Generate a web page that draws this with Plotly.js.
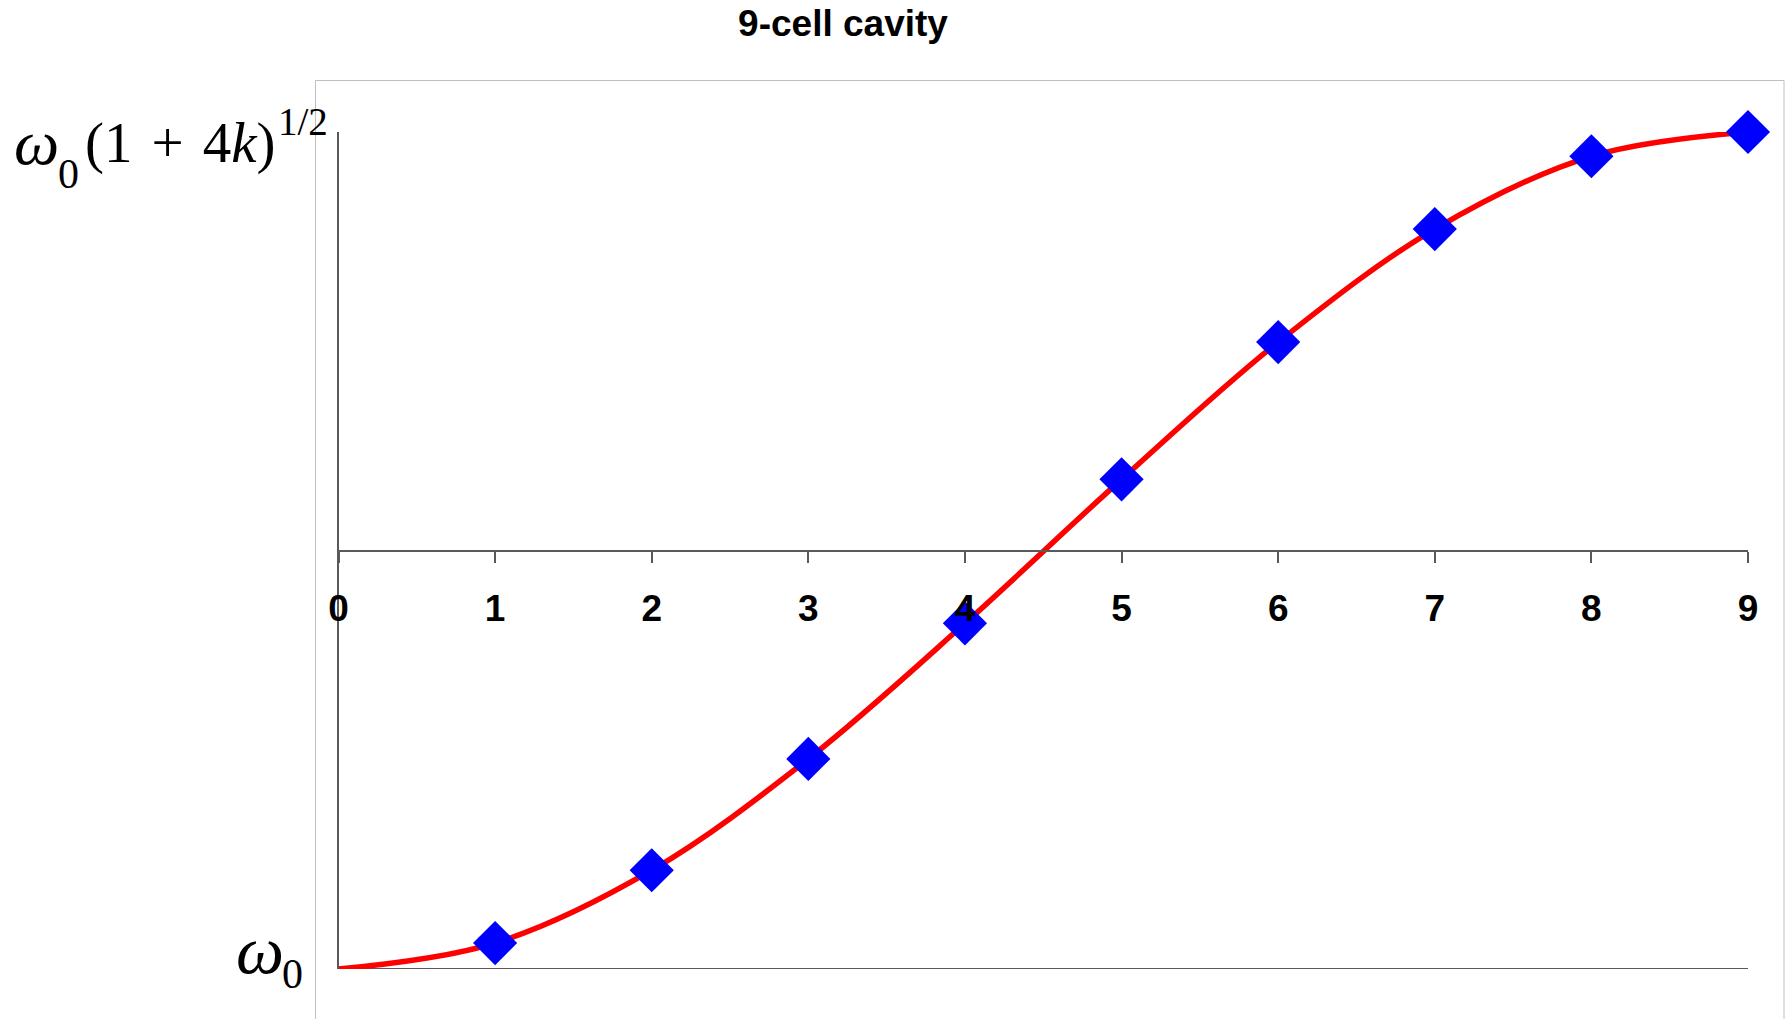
<!DOCTYPE html>
<html>
<head>
<meta charset="utf-8">
<script src="https://cdn.plot.ly/plotly-3.0.1.min.js"></script>
<style>html,body{margin:0;padding:0;background:#fff;}#chart{width:1789px;height:1019px;}</style>
</head>
<body>
<div id="chart"></div>
<script>
// Mode number n and normalised frequency (0 = ω0, 1 = ω0(1+4k)^1/2)
const modes = [1, 2, 3, 4, 5, 6, 7, 8, 9];
const freq = [0.031, 0.118, 0.251, 0.413, 0.585, 0.749, 0.884, 0.971, 1.0];
const curveModes = [0, 1, 2, 3, 4, 5, 6, 7, 8, 9];
const curveFreq = [0, 0.031, 0.118, 0.251, 0.413, 0.585, 0.749, 0.884, 0.971, 1.0];
const tickVals = [0, 1, 2, 3, 4, 5, 6, 7, 8, 9];
const tickText = ['0', '1', '2', '3', '4', '5', '6', '7', '8', '9'];
const chartTitle = '<b>9-cell cavity</b>';
const omega = '<i>ω</i>';
const sub0 = '0';
const topMid = '(1\u2004+\u20044<i>k</i>)';
const topSup = '1/2';

const W = 1789, H = 1019;
const px = v => v / W;
const py = v => (H - v) / H;
const yBot = py(969), yTop = py(132);
const xPos = yBot + 0.5 * (yTop - yBot);
const serif = '"Times New Roman", "Liberation Serif", serif';

function lab(text, x, xanchor, y, size) {
  return {text: text, xref: 'paper', yref: 'paper', x: px(x), xanchor: xanchor, y: py(y), yanchor: 'middle',
          showarrow: false, borderpad: 0, borderwidth: 0, font: {family: serif, size: size, color: '#000'}};
}

const traces = [
  {x: curveModes, y: curveFreq, type: 'scatter', mode: 'lines', cliponaxis: false,
   line: {color: '#FF0000', width: 5.5, shape: 'spline', smoothing: 1}, hoverinfo: 'skip'},
  {x: modes, y: freq, type: 'scatter', mode: 'markers', cliponaxis: false,
   marker: {symbol: 'diamond', size: 34, color: '#0000FF', line: {width: 0}}}
];

const layout = {
  width: W, height: H,
  margin: {l: 0, r: 0, t: 0, b: 0},
  paper_bgcolor: '#fff', plot_bgcolor: 'rgba(0,0,0,0)',
  showlegend: false,
  title: {text: chartTitle, x: px(843), xanchor: 'center', xref: 'paper',
          y: 1 - 23 / H, yanchor: 'middle', yref: 'paper',
          font: {family: 'Arial, "Liberation Sans", sans-serif', size: 37, color: '#000'}},
  xaxis: {
    domain: [px(338.5), px(1748)], range: [0, 9],
    anchor: 'free', position: xPos,
    showline: true, linecolor: '#595959', linewidth: 2,
    ticks: 'outside', ticklen: 11, tickwidth: 2, tickcolor: '#595959',
    ticklabelstandoff: 14,
    tickvals: tickVals, ticktext: tickText,
    tickfont: {family: 'Arial, "Liberation Sans", sans-serif', size: 37, color: '#000', weight: 'bold'},
    showgrid: false, zeroline: false, fixedrange: true
  },
  yaxis: {
    domain: [yBot, yTop], range: [0, 1],
    showline: true, linecolor: '#595959', linewidth: 2,
    ticks: '', showticklabels: false, showgrid: false, zeroline: false, fixedrange: true
  },
  shapes: [
    {type: 'rect', xref: 'paper', yref: 'paper', x0: px(315.5), x1: px(1784), y0: -0.05, y1: py(80.5),
     line: {color: '#C0C0C0', width: 1}, fillcolor: 'rgba(0,0,0,0)', layer: 'below'},
    {type: 'line', xref: 'x', yref: 'y', x0: 0, x1: 9, y0: 0, y1: 0,
     line: {color: '#595959', width: 2}, layer: 'below'}
  ],
  annotations: [
    lab(omega, 59, 'right', 142, 64),
    lab(sub0, 58, 'left', 174, 42),
    lab(topMid, 85, 'left', 143, 57),
    lab(topSup, 278, 'left', 121, 39),
    lab(omega, 284, 'right', 950, 68),
    lab(sub0, 282, 'left', 974, 42)
  ]
};

Plotly.newPlot('chart', traces, layout, {displayModeBar: false, staticPlot: true});
</script>
</body>
</html>
